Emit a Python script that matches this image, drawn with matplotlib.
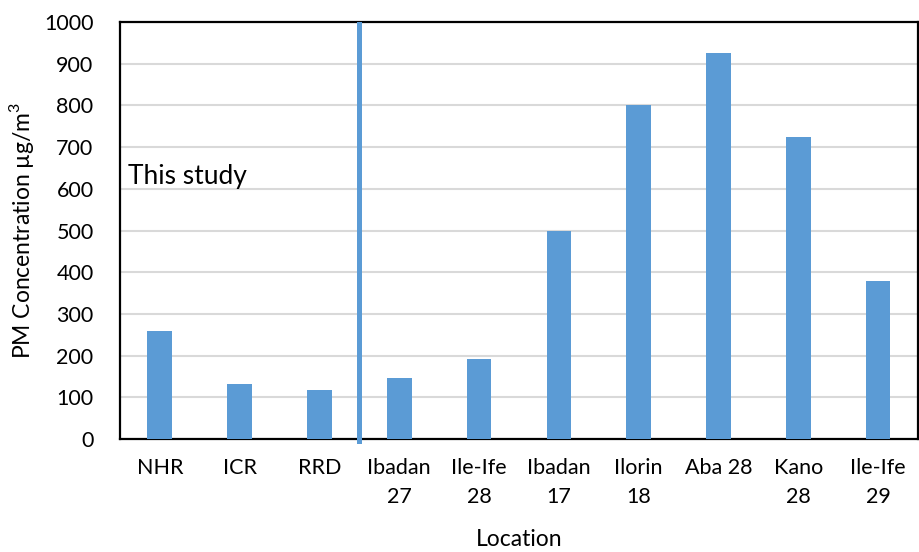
import matplotlib
matplotlib.use("Agg")
import matplotlib.pyplot as plt

locations = ["NHR", "ICR", "RRD", "Ibadan\n27", "Ile-Ife\n28", "Ibadan\n17",
             "Ilorin\n18", "Aba 28", "Kano\n28", "Ile-Ife\n29"]
pm_values = [260, 133, 118, 146, 192, 500, 800, 926, 724, 380]
y_ticks = [0, 100, 200, 300, 400, 500, 600, 700, 800, 900, 1000]
divider_x = 2.5

plt.rcParams["font.family"] = ["Lato", "DejaVu Sans"]
plt.rcParams["mathtext.fontset"] = "custom"
plt.rcParams["mathtext.rm"] = "Lato"

fig = plt.figure(figsize=(9.2, 5.52), dpi=100)
ax = fig.add_axes([0.1304, 0.2047, 0.8674, 0.7554])

xs = range(len(locations))
ax.bar(xs, pm_values, width=0.31, color="#5B9BD5", zorder=3)
ax.axvline(divider_x, ymin=-0.005, ymax=0.995, color="#5B9BD5", linewidth=3.6,
           zorder=4, clip_on=False)

ax.set_xlim(-0.5, len(locations) - 0.5)
ax.set_ylim(0, 1000)
ax.set_yticks(y_ticks)
ax.set_xticks(list(xs))
ax.set_xticklabels(locations, linespacing=1.55)
ax.tick_params(axis="both", length=0, labelsize=15.5, labelcolor="#000000")
ax.tick_params(axis="x", pad=14)
ax.tick_params(axis="y", pad=19)

ax.grid(axis="y", color="#D9D9D9", linewidth=1.5, zorder=0)
ax.set_axisbelow(True)
for s in ax.spines.values():
    s.set_color("black")
    s.set_linewidth(1.6)

ax.text(-0.4, 630, "This study", fontsize=19, va="center", ha="left")

ax.set_xlabel("Location", fontsize=16.5, labelpad=16)
ax.set_ylabel("PM Concentration µg/m$^3$", fontsize=16.5, labelpad=6)

fig.savefig("out.png", dpi=100)
